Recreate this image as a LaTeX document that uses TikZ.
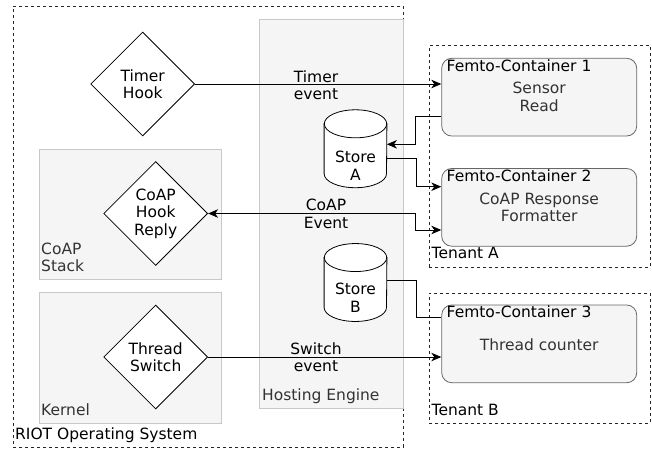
\documentclass[tikz,border=0pt]{standalone}
\usepackage{fontspec}
\setmainfont{DejaVu Sans}
\usetikzlibrary{shapes.geometric,arrows.meta,calc}
\definecolor{gfill}{HTML}{F5F5F5}
\definecolor{gline}{HTML}{C8C8C8}
\definecolor{dline}{HTML}{666666}
\definecolor{gtext}{HTML}{333333}
\begin{document}
\begin{tikzpicture}[x=1pt,y=-1pt,
  font=\fontsize{15.5}{17.5}\selectfont,
  area/.style={draw=gline, fill=gfill, line width=0.8pt, inner sep=0pt, anchor=north west},
  tenant/.style={draw=black!85, dash pattern=on 3pt off 3pt, line width=0.8pt, inner sep=0pt, anchor=north west},
  diam/.style={diamond, draw, fill=white, minimum width=104pt, minimum height=104pt, inner sep=0pt, align=center, line width=0.8pt},
  fc/.style={draw=dline, fill=gfill, rounded corners=10pt, minimum width=195pt, minimum height=77.7pt, line width=0.8pt, inner sep=0pt},
  storebox/.style={minimum width=62.4pt, minimum height=77.5pt, inner sep=0pt},
  boxlbl/.style={anchor=west, inner sep=0pt, text=gtext, align=left},
  blklbl/.style={anchor=west, inner sep=0pt, align=left},
  midlbl/.style={inner sep=0pt, align=center},
  conn/.style={line width=0.8pt},
  arr/.style={conn, -{Stealth[length=10pt,width=8.5pt,inset=3pt]}},
  arrs/.style={conn, {Stealth[length=10pt,width=8.5pt,inset=3pt]}-{Stealth[length=10pt,width=8.5pt,inset=3pt]}}
]
\useasboundingbox (0,0) rectangle (652,448);

% outer boxes
\node[tenant, minimum width=390pt, minimum height=441pt] (riot) at (12.5,5.5) {};
\node[area, minimum width=143.5pt, minimum height=389pt] (he) at (259,19) {};
\node[area, minimum width=182pt, minimum height=130pt] (cs) at (38.5,149) {};
\node[area, minimum width=182pt, minimum height=131pt] (kn) at (38.5,291.5) {};
\node[tenant, minimum width=221pt, minimum height=221.5pt] (ta) at (429,45) {};
\node[tenant, minimum width=221pt, minimum height=130pt] (tb) at (429,292.5) {};

\node[blklbl] (riotl) at (15,435.5) {RIOT Operating System};
\node[boxlbl] (hel) at (262,396) {Hosting Engine};
\node[boxlbl] (csl) at (41,257.4) {CoAP\\Stack};
\node[boxlbl] (knl) at (41,410) {Kernel};
\node[blklbl] (tal) at (431.5,253) {Tenant A};
\node[blklbl] (tbl) at (431.5,409.5) {Tenant B};

% diamonds
\node[diam] (th) at (142.7,84) {Timer\\Hook};
\node[diam] (ch) at (155.7,213.5) {CoAP\\Hook\\Reply};
\node[diam] (ts) at (155.7,357) {Thread\\Switch};

% femto containers
\node[fc] (fc1) at (539.2,97.15) {};
\node[fc] (fc2) at (539.2,207.35) {};
\node[fc] (fc3) at (539.2,343.85) {};
\node[blklbl] (fc1t) at (446.5,65.5) {Femto-Container 1};
\node[blklbl] (fc2t) at (446.5,175.5) {Femto-Container 2};
\node[blklbl] (fc3t) at (446.5,312) {Femto-Container 3};
\node[midlbl, text=gtext] (fc1b) at (539.2,97) {Sensor\\Read};
\node[midlbl, text=gtext] (fc2b) at (539.2,207.5) {CoAP Response\\Formatter};
\node[midlbl, text=gtext] (fc3b) at (539.2,344.3) {Thread counter};

% stores
\node[storebox] (sA) at (355.5,148.75) {};
\node[storebox] (sB) at (355.5,282.5) {};
\foreach \s in {sA,sB}{
  \draw[conn, fill=white] ($(\s.north west)+(0,14)$) -- ($(\s.south west)+(0,-14)$)
     arc[start angle=180, end angle=0, x radius=31.2, y radius=14]
     -- ($(\s.north east)+(0,14)$) -- cycle;
  \draw[conn, fill=white] ($(\s.north)+(0,14)$) ellipse[x radius=31.2, y radius=14];
}
\node[midlbl] (sAt) at ($(sA)+(0,17)$) {Store\\A};
\node[midlbl] (sBt) at ($(sB)+(0,15)$) {Store\\B};

% connectors
\draw[arr] (th.east) -- (th.east -| fc1.west);
\node[midlbl] (lT) at (316,85) {Timer\\event};

\draw[arr] ($(fc1.west)+(0,18.85)$) -- ++(-26,0) |- ($(sA.east)+(0,-4.45)$);
\draw[arr] ($(sA.east)+(0,9.5)$) -- ++(29.2,0) |- ($(fc2.west)+(0,-20.65)$);
\draw[arrs] ($(fc2.west)+(0,22.65)$) -- ++(-26,0) |- (ch.east);
\node[midlbl] (lC) at (326,214) {CoAP\\Event};

\draw[conn] ($(sB.east)+(0,-2.5)$) -- ++(29.2,0) |- ($(fc3.west)+(0,-26.15)$);
\draw[arr] (ts.east) -- (ts.east -| fc3.west);
\node[midlbl] (lS) at (316,357) {Switch\\event};
\end{tikzpicture}
\end{document}
